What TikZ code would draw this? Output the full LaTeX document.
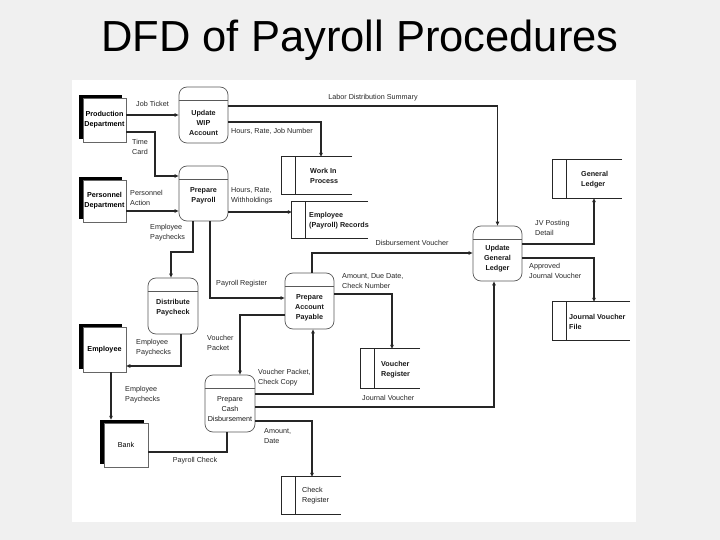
\documentclass[tikz,border=0pt]{standalone}
\usepackage{fontspec}
\setmainfont{Liberation Sans}
\usetikzlibrary{arrows.meta,shadows}
\definecolor{bgc}{RGB}{240,240,240}
\newcommand\dstore[1]{%
  \draw[storeline] (#1.north east) -- (#1.north west) -- (#1.south west) -- (#1.south east);
  \draw[storeline] ([xshift=14pt]#1.north west) -- ([xshift=14pt]#1.south west);}
\newcommand\pdivider[1]{%
  \draw[procline] ([yshift=-14pt]#1.north west) -- ([yshift=-14pt]#1.north east);}
\begin{document}
\begin{tikzpicture}[x=1pt,y=-1pt,
  smallfont/.style={font=\fontsize{7.2}{10}\selectfont},
  ent/.style={draw=black!60, line width=0.5pt, fill=white, inner sep=0pt,
    align=center, smallfont,
    drop shadow={fill=black, opacity=1, shadow xshift=-4pt, shadow yshift=3pt}},
  proc/.style={draw=black!65, line width=0.7pt, fill=white, rounded corners=8pt, inner sep=0pt},
  procline/.style={draw=black!65, line width=0.7pt},
  ptext/.style={smallfont, align=center, inner sep=0pt, text=black!90},
  store/.style={inner sep=0pt},
  storeline/.style={draw=black!85, line width=0.7pt},
  stext/.style={smallfont, align=left, anchor=west, inner sep=0pt, text=black!90},
  lbl/.style={smallfont, align=left, anchor=west, inner sep=0pt, text=black!85},
  cl/.style={smallfont, inner sep=0pt, text=black!85},
  conn/.style={draw=black!85, line width=1.2pt},
  flow/.style={conn, -{Triangle[length=4pt,width=3.4pt]}}
]
\useasboundingbox (0,0) rectangle (720,540);
\fill[bgc] (0,0) rectangle (720,540);
\fill[white] (72,80) rectangle (636,522);

% title
\node[font=\fontsize{43.5}{50}\selectfont, anchor=base, inner sep=0pt] (title) at (360,52) {DFD of Payroll Procedures};

% external entities
\node[ent, minimum width=43pt, minimum height=44pt, font=\fontsize{7.2}{10}\selectfont\bfseries] (prod) at (104.5,120) {Production\\Department};
\node[ent, minimum width=43pt, minimum height=42pt, font=\fontsize{7.2}{10}\selectfont\bfseries] (pers) at (104.5,201) {Personnel\\Department};
\node[ent, minimum width=43pt, minimum height=45pt, font=\fontsize{7.2}{10}\selectfont\bfseries] (emp) at (104.5,349.5) {Employee};
\node[ent, minimum width=44pt, minimum height=44pt] (bank) at (126,445) {Bank};

% processes
\node[proc, minimum width=49pt, minimum height=56pt] (wip) at (203.5,115) {};
\pdivider{wip}
\node[ptext, font=\fontsize{7.2}{10}\selectfont\bfseries] (wipT) at (203.5,123) {Update\\WIP\\Account};

\node[proc, minimum width=49pt, minimum height=55pt] (pay) at (203.5,193.5) {};
\pdivider{pay}
\node[ptext, font=\fontsize{7.2}{10}\selectfont\bfseries] (payT) at (203.5,196) {Prepare\\Payroll};

\node[proc, minimum width=50pt, minimum height=56pt] (dist) at (173,306) {};
\pdivider{dist}
\node[ptext, font=\fontsize{7.2}{10}\selectfont\bfseries] (distT) at (173,308) {Distribute\\Paycheck};

\node[proc, minimum width=49pt, minimum height=56pt] (pap) at (309.5,301) {};
\pdivider{pap}
\node[ptext, font=\fontsize{7.2}{10}\selectfont\bfseries] (papT) at (309.5,308) {Prepare\\Account\\Payable};

\node[proc, minimum width=50pt, minimum height=57pt] (cash) at (230,403.5) {};
\pdivider{cash}
\node[ptext] (cashT) at (230,409) {Prepare\\Cash\\Disbursement};

\node[proc, minimum width=49pt, minimum height=55pt] (ugl) at (497.5,253.5) {};
\pdivider{ugl}
\node[ptext, font=\fontsize{7.2}{10}\selectfont\bfseries] (uglT) at (497.5,258.5) {Update\\General\\Ledger};

% data stores
\node[store, minimum width=70pt, minimum height=37pt] (wipf) at (317,175.5) {};
\dstore{wipf}
\node[stext, font=\fontsize{7.2}{10}\selectfont\bfseries] (wipfT) at (310,176) {Work In\\Process};

\node[store, minimum width=76pt, minimum height=36pt] (empr) at (330,220) {};
\dstore{empr}
\node[stext, font=\fontsize{7.2}{10}\selectfont\bfseries] (emprT) at (309,221) {Employee\\(Payroll) Records};

\node[store, minimum width=69pt, minimum height=38pt] (gl) at (587.5,179) {};
\dstore{gl}
\node[stext, font=\fontsize{7.2}{10}\selectfont\bfseries] (glT) at (581,180) {General\\Ledger};

\node[store, minimum width=77pt, minimum height=38pt] (jvf) at (591.5,321) {};
\dstore{jvf}
\node[stext, font=\fontsize{7.2}{10}\selectfont\bfseries] (jvfT) at (569,322) {Journal Voucher\\File};

\node[store, minimum width=59pt, minimum height=39pt] (vr) at (390.5,368.5) {};
\dstore{vr}
\node[stext, font=\fontsize{7.2}{10}\selectfont\bfseries] (vrT) at (381,370) {Voucher\\Register};

\node[store, minimum width=59pt, minimum height=37pt] (cr) at (311.5,495.5) {};
\dstore{cr}
\node[stext] (crT) at (302,496) {Check\\Register};

% data flows
\draw[flow] (prod.east |- 0,115) -- (wip.west |- 0,115);
\node[cl] (l1) at (152.5,104) {Job Ticket};

\draw[flow] (prod.east |- 0,132) -- (155,132) -- (155,176) -- (pay.west |- 0,176);
\node[lbl] (l2) at (132,147) {Time\\Card};

\draw[flow] (pers.east |- 0,211) -- (pay.west |- 0,211);
\node[lbl] (l3) at (130,198) {Personnel\\Action};

\draw[flow] (wip.east |- 0,106) -| (ugl.north);
\node[cl] (l4) at (373,98) {Labor Distribution Summary};

\draw[flow] (wip.east |- 0,122) -| (321,0 |- wipf.north);
\node[lbl] (l5) at (231,131) {Hours, Rate, Job Number};

\draw[flow] (pay.east |- 0,212) -- (empr.west |- 0,212);
\node[lbl] (l6) at (231,196) {Hours, Rate,\\Withholdings};

\draw[flow] (193,0 |- pay.south) -- (193,252) -| (171,0 |- dist.north);
\node[lbl] (l7) at (150,233) {Employee\\Paychecks};

\draw[flow] (210,0 |- pay.south) |- (pap.west |- 0,298);
\node[lbl] (l8) at (216,284) {Payroll Register};

\draw[flow] (181,0 |- dist.south) |- (emp.east |- 0,366);
\node[lbl] (l9) at (136,348) {Employee\\Paychecks};

\draw[flow, shorten >=3pt] (111,0 |- emp.south) -- (111,0 |- bank.north);
\node[lbl] (l10) at (125,395) {Employee\\Paychecks};

\draw[conn] (227,0 |- cash.south) |- (bank.east |- 0,452);
\node[cl] (l11) at (195,461) {Payroll Check};

\draw[flow] (pap.west |- 0,315) -| (240,0 |- cash.north);
\node[lbl] (l12) at (207,343) {Voucher\\Packet};

\draw[flow] (cash.east |- 0,394) -| (313,0 |- pap.south);
\node[lbl] (l13) at (258,378) {Voucher Packet,\\Check Copy};

\draw[flow] (312,0 |- pap.north) |- (ugl.west |- 0,253);
\node[cl] (l14) at (412,243) {Disbursement Voucher};

\draw[flow] (pap.east |- 0,294) -| (392,0 |- vr.north);
\node[lbl] (l15) at (342,281) {Amount, Due Date,\\Check Number};

\draw[flow] (cash.east |- 0,407) -| (494,0 |- ugl.south);
\node[lbl] (l16) at (362,398) {Journal Voucher};

\draw[flow] (cash.east |- 0,421) -| (312,0 |- cr.north);
\node[lbl] (l17) at (264,436) {Amount,\\Date};

\draw[flow] (ugl.east |- 0,244) -| (594,0 |- gl.south);
\node[lbl] (l18) at (535,228) {JV Posting\\Detail};

\draw[flow] (ugl.east |- 0,258) -| (594,0 |- jvf.north);
\node[lbl] (l19) at (529,271) {Approved\\Journal Voucher};
\end{tikzpicture}
\end{document}
